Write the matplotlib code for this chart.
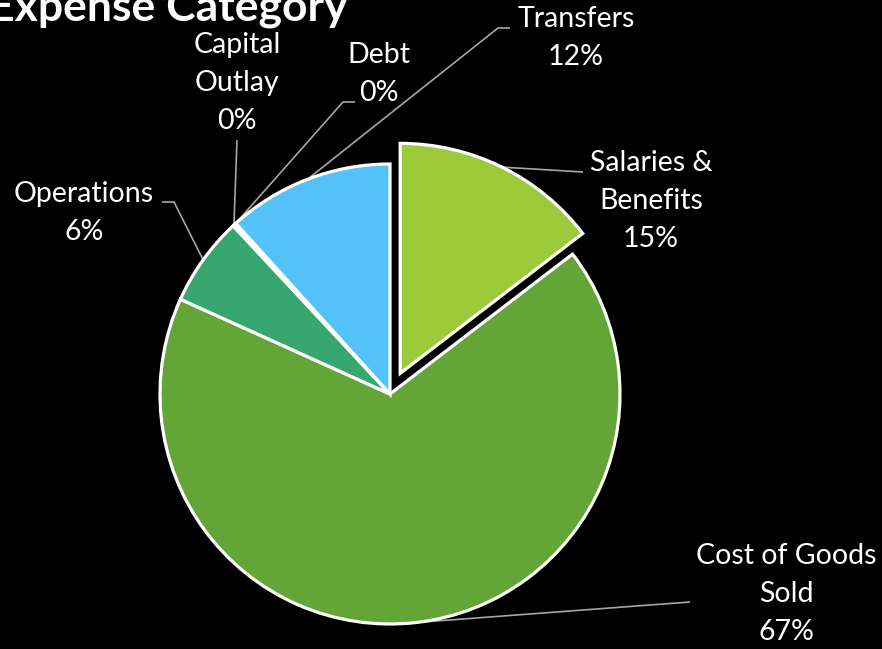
import numpy as np
import matplotlib
matplotlib.use("Agg")
import matplotlib.pyplot as plt

# expense shares (percent), clockwise from 12 o'clock
categories = ["Salaries &\nBenefits", "Cost of Goods\nSold", "Operations",
              "Capital\nOutlay", "Debt", "Transfers"]
values = [14.6, 67.2, 6.3, 0.15, 0.1, 11.7]
colors = ["#9DCA3B", "#63A537", "#37A76F", "#2E8B57", "#3A9BD5", "#53C2F8"]

W, H = 882, 649
plt.rcParams["font.family"] = ["Lato", "DejaVu Sans"]

fig = plt.figure(figsize=(W / 100, H / 100), dpi=100, facecolor="black")
ax = fig.add_axes([0, 0, 1, 1])
ax.set_facecolor("black")


def Y(y):
    # image row -> data y (y axis points up)
    return H - y


cx, cy, R = 390, Y(394), 230
wedges, _ = ax.pie(values, colors=colors, startangle=90, counterclock=False,
                   center=(cx, cy), radius=R,
                   explode=[23, 0, 0, 0, 0, 0],
                   wedgeprops=dict(edgecolor="white", linewidth=2.3))
ax.set_xlim(0, W)
ax.set_ylim(0, H)
ax.set_aspect("equal")
ax.axis("off")

# label centre, leader path (elbow points, image coords) per slice
label_pos = [(651, 201), (786, 594), (84, 213), (237, 83), (379, 74), (576, 38)]
elbows = [[(583, 172)], [(690, 602)], [(174, 202), (162, 202)],
          [(237, 140)], [(343, 102), (355, 102)], [(498, 28), (510, 28)]]

total = sum(values)
for w, name, v, (lx, ly), path in zip(wedges, categories, values, label_pos, elbows):
    tm = np.deg2rad((w.theta1 + w.theta2) / 2)
    ox, oy = w.center
    ax_, ay_ = ox + R * np.cos(tm), oy + R * np.sin(tm)
    xs = [ax_] + [p[0] for p in path]
    ys = [ay_] + [Y(p[1]) for p in path]
    ax.plot(xs, ys, color="#A6A6A6", lw=1.2, zorder=0.5, solid_capstyle="butt")
    ax.text(lx, Y(ly), f"{name}\n{v / total * 100:.0f}%", color="white",
            fontsize=20.5, ha="center", va="center", linespacing=1.57)

ax.text(348, Y(21), "Expense Category", color="white", fontsize=32,
        fontweight="bold", ha="right", va="baseline")

fig.savefig("out.png", dpi=100, facecolor="black")
